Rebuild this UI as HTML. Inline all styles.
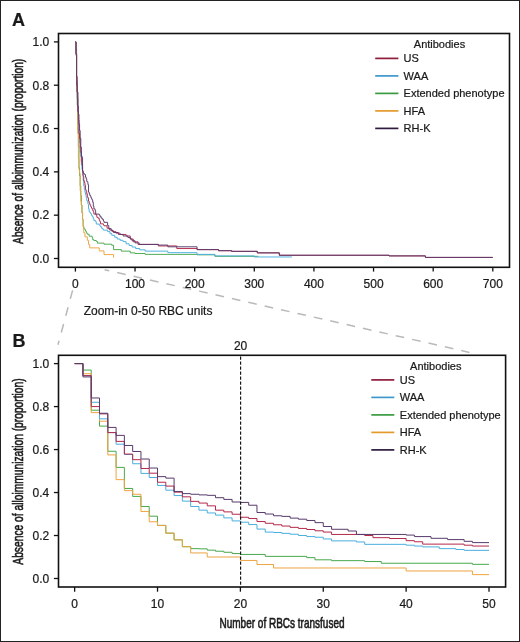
<!DOCTYPE html>
<html><head><meta charset="utf-8"><style>
html,body{margin:0;padding:0;background:#fff;}
body{width:520px;height:642px;overflow:hidden;position:relative;}
svg{position:absolute;left:0;top:0;will-change:transform;filter:blur(0.3px);}
text{font-family:"Liberation Sans",sans-serif;fill:#1a1a1a;stroke:#1a1a1a;stroke-width:0.22px;}
.cond{stroke-width:0.6px;}
</style></head><body>
<svg width="520" height="642" viewBox="0 0 520 642">
<rect x="0.5" y="0.5" width="519" height="641" fill="#fff" stroke="#222" stroke-width="1"/>
<!-- dashed zoom connectors -->
<g stroke="#b9b9b9" stroke-width="1.5" fill="none">
<line x1="104.6" y1="269.7" x2="469.5" y2="352.4" stroke-dasharray="8.7 8.1" stroke-dashoffset="3.9"/>
<line x1="72.6" y1="290.4" x2="58.0" y2="344.8" stroke-dasharray="8.8 8.6"/>
</g>
<!-- Panel A -->
<g fill="none" stroke-width="0.95" stroke-linejoin="miter"><path d="M75.40,41.90H76.00V48.40H76.59V88.90H77.19V104.93H77.79V130.27H78.38V146.52H78.98V167.74H79.57V175.76H80.17V185.94H80.77V195.69H81.36V205.00H81.96V212.80H82.56V219.51H83.15V226.44H83.75V228.39H84.34V228.61H84.94V229.91H85.54V230.99H86.13V232.07H86.73V233.37H87.33V234.24H89.11V236.19H92.10V237.49H92.69V239.66H93.89V240.52H96.27V241.39H97.46V243.12H104.02V244.20H111.77V245.29H113.56V249.62H121.32V251.14H130.26V252.87H135.03V253.52H145.17V254.38H197.05V254.82H214.93V256.33H258.46" stroke="#48a84c"/><path d="M75.40,41.90H76.00V52.08H76.59V91.28H77.19V99.95H77.79V133.96H78.38V158.86H78.98V169.91H79.57V173.59H80.17V190.92H80.77V201.32H81.36V205.00H81.96V212.80H82.56V219.51H83.15V226.44H83.75V232.72H84.94V236.84H87.33V240.31H88.52V244.42H89.71V247.89H99.25V250.92H104.02V254.60H113.56V257.63H113.56" stroke="#eea440"/><path d="M75.40,41.90H76.00V54.03H76.59V80.89H77.19V97.57H77.79V111.43H78.38V123.12H78.98V133.52H79.57V142.84H80.17V152.58H80.77V156.70H81.36V164.71H81.96V169.48H82.56V174.89H83.15V180.52H83.75V185.94H84.34V189.62H84.94V192.44H85.54V194.60H86.13V197.42H86.73V200.45H87.33V201.75H87.92V204.13H88.52V208.68H89.11V211.71H89.71V212.15H90.31V213.01H90.90V213.88H91.50V215.18H92.10V216.26H92.69V216.91H93.29V218.65H93.89V220.59H95.67V221.68H96.27V224.06H99.25V224.93H99.85V225.79H100.44V226.66H101.64V228.39H102.83V229.26H103.43V230.13H107.60V231.64H109.99V233.59H111.77V235.32H114.76V237.27H117.14V239.01H120.12V240.31H123.10V241.61H126.09V243.77H129.07V245.50H132.05V247.02H135.63V248.54H139.80V249.84H145.17V251.14H167.83V252.65H197.05V254.38H214.93V255.90H254.29V256.98H291.86" stroke="#4aaee0"/><path d="M75.40,41.90H76.00V54.03H76.59V85.22H77.19V92.58H77.79V111.43H78.38V120.31H78.98V133.09H79.57V138.72H80.17V147.60H80.77V152.37H81.36V161.46H81.96V165.36H82.56V171.43H83.15V176.19H83.75V180.74H84.34V182.47H84.94V185.29H85.54V189.62H86.13V191.35H86.73V193.74H87.33V196.77H87.92V198.07H88.52V201.10H89.11V202.83H89.71V204.35H90.31V205.65H90.90V206.95H91.50V208.03H92.10V209.12H92.69V210.41H93.29V211.71H93.89V214.10H96.27V215.18H96.87V217.35H98.06V218.21H99.25V220.38H99.85V221.46H100.44V223.84H103.43V224.93H104.02V225.79H107.00V228.18H109.39V229.91H112.37V231.64H115.95V233.16H120.12V234.46H126.09V235.97H130.26V239.01H133.24V241.82H138.01V244.42H158.29V245.94H176.77V248.54H197.05V249.62H218.51V250.70H231.63V251.35H257.27V252.87H279.33V255.25H389.05V255.90H425.43V257.42H492.81" stroke="#b4284a"/><path d="M75.40,41.90H76.00V55.33H76.59V76.56H77.19V91.93H77.79V106.23H78.38V114.24H78.98V124.42H79.57V130.49H80.17V138.07H80.77V147.17H81.36V155.83H81.96V157.35H82.56V170.78H83.15V172.94H83.75V173.59H84.34V174.24H84.94V174.68H85.54V177.06H86.13V178.79H86.73V181.39H87.33V181.82H87.92V184.64H88.52V192.00H89.11V193.52H89.71V195.25H90.31V195.90H90.90V197.64H91.50V198.72H92.10V200.02H92.69V202.18H93.29V206.08H93.89V208.90H95.08V210.63H95.67V214.10H99.25V214.75H99.85V216.26H101.04V218.00H102.23V219.30H103.43V221.03H104.02V222.33H107.60V225.58H108.79V228.61H111.18V230.78H113.56V232.51H118.33V234.46H123.10V235.97H127.87V237.49H130.26V239.01H132.05V240.74H135.03V242.90H139.20V244.42H158.29V245.07H167.83V246.80H197.05V249.62H218.51V250.70H231.63V251.35H257.27V252.87H279.33V255.25H389.05V255.90H425.43V257.42H492.81" stroke="#583a6c"/></g>
<rect x="58.5" y="33.5" width="451" height="233.8" fill="none" stroke="#111" stroke-width="1.6"/>
<g stroke="#111" stroke-width="1.3"><line x1="53.9" y1="41.90" x2="58.5" y2="41.90"/><line x1="53.9" y1="85.22" x2="58.5" y2="85.22"/><line x1="53.9" y1="128.54" x2="58.5" y2="128.54"/><line x1="53.9" y1="171.86" x2="58.5" y2="171.86"/><line x1="53.9" y1="215.18" x2="58.5" y2="215.18"/><line x1="53.9" y1="258.50" x2="58.5" y2="258.50"/><line x1="75.40" y1="267" x2="75.40" y2="271.6"/><line x1="135.03" y1="267" x2="135.03" y2="271.6"/><line x1="194.66" y1="267" x2="194.66" y2="271.6"/><line x1="254.29" y1="267" x2="254.29" y2="271.6"/><line x1="313.92" y1="267" x2="313.92" y2="271.6"/><line x1="373.55" y1="267" x2="373.55" y2="271.6"/><line x1="433.18" y1="267" x2="433.18" y2="271.6"/><line x1="492.81" y1="267" x2="492.81" y2="271.6"/></g>
<!-- Panel B -->
<g fill="none" stroke-width="1.0" stroke-linejoin="miter"><path d="M74.65,363.60H82.94V370.05H91.22V410.23H99.51V426.14H107.80V451.28H116.09V467.40H124.37V488.46H132.66V496.41H140.95V506.51H149.23V516.18H157.52V525.42H165.81V533.16H174.09V539.82H182.38V546.69H190.67V548.63H198.96V548.84H207.24V550.13H215.53V551.21H223.82V552.28H232.10V553.57H240.39V554.43H265.25V556.37H306.69V557.65H314.97V559.80H331.55V560.66H364.70V561.52H381.27V563.24H472.43V564.32H489.00" stroke="#48a84c"/><path d="M74.65,363.60H82.94V373.70H91.22V412.60H99.51V421.19H107.80V454.93H116.09V479.65H124.37V490.61H132.66V494.26H140.95V511.45H149.23V521.77H157.52V525.42H165.81V533.16H174.09V539.82H182.38V546.69H190.67V552.93H207.24V557.01H240.39V560.45H256.96V564.53H273.54V567.97H406.13V570.98H472.43V574.63H489.00" stroke="#eea440"/><path d="M74.65,363.60H82.94V375.63H91.22V402.28H99.51V418.83H107.80V432.58H116.09V444.19H124.37V454.50H132.66V463.74H140.95V473.41H149.23V477.50H157.52V485.45H165.81V490.18H174.09V495.55H182.38V501.14H190.67V506.51H198.96V510.16H207.24V512.96H215.53V515.10H223.82V517.90H232.10V520.91H240.39V522.20H248.68V524.56H256.96V529.07H265.25V532.08H273.54V532.51H281.83V533.37H290.11V534.23H298.40V535.52H306.69V536.59H314.97V537.24H323.26V538.96H331.55V540.89H356.41V541.97H364.70V544.33H406.13V545.19H414.42V546.05H422.70V546.91H439.28V548.63H455.85V549.49H464.14V550.35H489.00" stroke="#4aaee0"/><path d="M74.65,363.60H82.94V375.63H91.22V406.58H99.51V413.89H107.80V432.58H116.09V441.39H124.37V454.07H132.66V459.66H140.95V468.47H149.23V473.20H157.52V482.22H165.81V486.09H174.09V492.11H182.38V496.84H190.67V501.35H198.96V503.07H207.24V505.86H215.53V510.16H223.82V511.88H232.10V514.24H240.39V517.25H248.68V518.54H256.96V521.55H265.25V523.27H273.54V524.77H281.83V526.06H290.11V527.35H298.40V528.43H306.69V529.50H314.97V530.79H323.26V532.08H331.55V534.45H364.70V535.52H372.98V537.67H389.56V538.53H406.13V540.68H414.42V541.75H422.70V544.12H464.14V545.19H472.43V546.05H489.00" stroke="#b4284a"/><path d="M74.65,363.60H82.94V376.92H91.22V397.98H99.51V413.24H107.80V427.43H116.09V435.38H124.37V445.48H132.66V451.49H140.95V459.02H149.23V468.04H157.52V476.64H165.81V478.14H174.09V491.47H182.38V493.61H190.67V494.26H198.96V494.90H207.24V495.33H215.53V497.70H223.82V499.42H232.10V502.00H240.39V502.43H248.68V505.22H256.96V512.53H265.25V514.03H273.54V515.75H281.83V516.39H290.11V518.11H298.40V519.19H306.69V520.48H314.97V522.63H323.26V526.49H331.55V529.29H348.12V531.01H356.41V534.45H406.13V535.09H414.42V536.59H430.99V538.31H447.57V539.60H464.14V541.32H472.43V542.61H489.00" stroke="#583a6c"/></g>
<line x1="240.6" y1="356.5" x2="240.6" y2="586.2" stroke="#111" stroke-width="1.15" stroke-dasharray="3.15 1.85"/>
<rect x="58.5" y="355.3" width="447.1" height="231.7" fill="none" stroke="#111" stroke-width="1.6"/>
<g stroke="#111" stroke-width="1.3"><line x1="53.9" y1="363.60" x2="58.5" y2="363.60"/><line x1="53.9" y1="406.58" x2="58.5" y2="406.58"/><line x1="53.9" y1="449.56" x2="58.5" y2="449.56"/><line x1="53.9" y1="492.54" x2="58.5" y2="492.54"/><line x1="53.9" y1="535.52" x2="58.5" y2="535.52"/><line x1="53.9" y1="578.50" x2="58.5" y2="578.50"/><line x1="74.65" y1="587" x2="74.65" y2="591.7"/><line x1="157.52" y1="587" x2="157.52" y2="591.7"/><line x1="240.39" y1="587" x2="240.39" y2="591.7"/><line x1="323.26" y1="587" x2="323.26" y2="591.7"/><line x1="406.13" y1="587" x2="406.13" y2="591.7"/><line x1="489.00" y1="587" x2="489.00" y2="591.7"/></g>
<text x="49.20" y="46.20" text-anchor="end" font-size="12" font-weight="normal" >1.0</text><text x="49.20" y="367.90" text-anchor="end" font-size="12" font-weight="normal" >1.0</text><text x="49.20" y="89.52" text-anchor="end" font-size="12" font-weight="normal" >0.8</text><text x="49.20" y="410.88" text-anchor="end" font-size="12" font-weight="normal" >0.8</text><text x="49.20" y="132.84" text-anchor="end" font-size="12" font-weight="normal" >0.6</text><text x="49.20" y="453.86" text-anchor="end" font-size="12" font-weight="normal" >0.6</text><text x="49.20" y="176.16" text-anchor="end" font-size="12" font-weight="normal" >0.4</text><text x="49.20" y="496.84" text-anchor="end" font-size="12" font-weight="normal" >0.4</text><text x="49.20" y="219.48" text-anchor="end" font-size="12" font-weight="normal" >0.2</text><text x="49.20" y="539.82" text-anchor="end" font-size="12" font-weight="normal" >0.2</text><text x="49.20" y="262.80" text-anchor="end" font-size="12" font-weight="normal" >0.0</text><text x="49.20" y="582.80" text-anchor="end" font-size="12" font-weight="normal" >0.0</text><text x="75.40" y="288.00" text-anchor="middle" font-size="12" font-weight="normal" >0</text><text x="135.03" y="288.00" text-anchor="middle" font-size="12" font-weight="normal" >100</text><text x="194.66" y="288.00" text-anchor="middle" font-size="12" font-weight="normal" >200</text><text x="254.29" y="288.00" text-anchor="middle" font-size="12" font-weight="normal" >300</text><text x="313.92" y="288.00" text-anchor="middle" font-size="12" font-weight="normal" >400</text><text x="373.55" y="288.00" text-anchor="middle" font-size="12" font-weight="normal" >500</text><text x="433.18" y="288.00" text-anchor="middle" font-size="12" font-weight="normal" >600</text><text x="492.81" y="288.00" text-anchor="middle" font-size="12" font-weight="normal" >700</text><text x="74.65" y="607.60" text-anchor="middle" font-size="12" font-weight="normal" >0</text><text x="157.52" y="607.60" text-anchor="middle" font-size="12" font-weight="normal" >10</text><text x="240.39" y="607.60" text-anchor="middle" font-size="12" font-weight="normal" >20</text><text x="323.26" y="607.60" text-anchor="middle" font-size="12" font-weight="normal" >30</text><text x="406.13" y="607.60" text-anchor="middle" font-size="12" font-weight="normal" >40</text><text x="489.00" y="607.60" text-anchor="middle" font-size="12" font-weight="normal" >50</text>
<text x="413.80" y="48.10" text-anchor="start" font-size="11" font-weight="normal" >Antibodies</text><line x1="375.2" y1="58.40" x2="398.4" y2="58.40" stroke="#8e1d3c" stroke-width="1.7"/><text x="403.60" y="62.30" text-anchor="start" font-size="11" font-weight="normal" >US</text><line x1="375.2" y1="75.90" x2="398.4" y2="75.90" stroke="#3f98cc" stroke-width="1.7"/><text x="403.60" y="79.80" text-anchor="start" font-size="11" font-weight="normal" >WAA</text><line x1="375.2" y1="93.40" x2="398.4" y2="93.40" stroke="#3a9a40" stroke-width="1.7"/><text x="403.60" y="97.30" text-anchor="start" font-size="11" font-weight="normal" >Extended phenotype</text><line x1="375.2" y1="110.90" x2="398.4" y2="110.90" stroke="#e49a2a" stroke-width="1.7"/><text x="403.60" y="114.80" text-anchor="start" font-size="11" font-weight="normal" >HFA</text><line x1="375.2" y1="128.40" x2="398.4" y2="128.40" stroke="#2e1a3e" stroke-width="1.7"/><text x="403.60" y="132.30" text-anchor="start" font-size="11" font-weight="normal" >RH-K</text>
<text x="410.10" y="369.90" text-anchor="start" font-size="11" font-weight="normal" >Antibodies</text><line x1="371.3" y1="379.90" x2="394.3" y2="379.90" stroke="#8e1d3c" stroke-width="1.7"/><text x="399.80" y="383.80" text-anchor="start" font-size="11" font-weight="normal" >US</text><line x1="371.3" y1="397.40" x2="394.3" y2="397.40" stroke="#3f98cc" stroke-width="1.7"/><text x="399.80" y="401.30" text-anchor="start" font-size="11" font-weight="normal" >WAA</text><line x1="371.3" y1="414.90" x2="394.3" y2="414.90" stroke="#3a9a40" stroke-width="1.7"/><text x="399.80" y="418.80" text-anchor="start" font-size="11" font-weight="normal" >Extended phenotype</text><line x1="371.3" y1="432.40" x2="394.3" y2="432.40" stroke="#e49a2a" stroke-width="1.7"/><text x="399.80" y="436.30" text-anchor="start" font-size="11" font-weight="normal" >HFA</text><line x1="371.3" y1="449.90" x2="394.3" y2="449.90" stroke="#2e1a3e" stroke-width="1.7"/><text x="399.80" y="453.80" text-anchor="start" font-size="11" font-weight="normal" >RH-K</text>
<text x="240.60" y="349.80" text-anchor="middle" font-size="12" font-weight="normal" >20</text>
<text x="83.70" y="315.00" text-anchor="start" font-size="12" font-weight="normal" >Zoom-in 0-50 RBC units</text>
<text x="12.00" y="25.80" text-anchor="start" font-size="18" font-weight="bold" >A</text>
<text x="12.60" y="347.20" text-anchor="start" font-size="18" font-weight="bold" >B</text>
<text class="cond" transform="translate(219.5,627.8) scale(0.715,1)" font-size="14">Number of RBCs transfused</text>
<text class="cond" transform="translate(23.0,243.9) rotate(-90) scale(0.728,1)" font-size="14">Absence of alloimmunization (proportion)</text>
<text class="cond" transform="translate(23.0,564.7) rotate(-90) scale(0.733,1)" font-size="14">Absence of alloimmunization (proportion)</text>
</svg>
</body></html>
